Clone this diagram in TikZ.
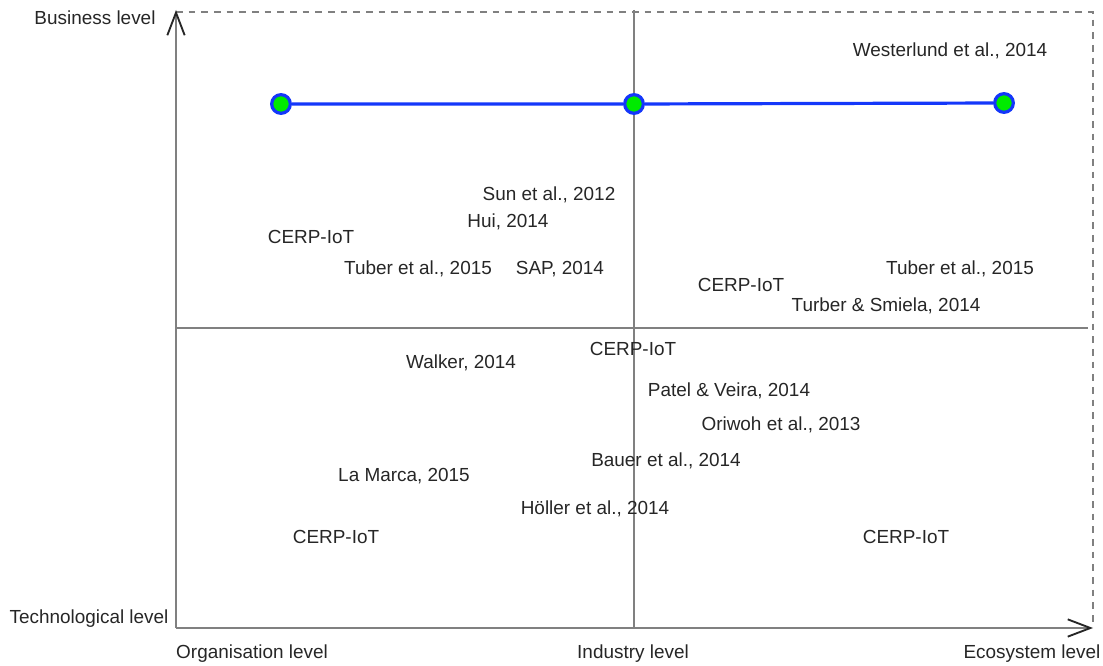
\documentclass[tikz,border=0pt]{standalone}
\usepackage{fontspec}
\setmainfont{Liberation Sans}
\usetikzlibrary{arrows.meta}
\definecolor{lineblue}{RGB}{20,55,250}
\definecolor{dotgreen}{RGB}{0,235,0}
\definecolor{axisgray}{RGB}{128,128,128}
\begin{document}
\begin{tikzpicture}[x=0.75pt, y=-0.75pt,
    axis/.style={draw=axisgray, line width=2.2pt},
    ref/.style={font=\fontsize{14.2}{17}\selectfont, text=black!85, inner sep=0pt, text height=10.2pt, text depth=0pt},
    dot/.style={circle, draw=lineblue, fill=dotgreen, line width=2.4pt, minimum size=14pt, inner sep=0pt}]
        \useasboundingbox (0, 0) rectangle (1103, 666);
        \coordinate (origin) at (176, 628);
        \coordinate (ytop) at (176, 10);
        \coordinate (xend) at (1093, 628);
        \coordinate (corner) at (1093, 12);
        \draw[axisgray, line width=1.7pt, dash pattern=on 5pt off 4.5pt] (176, 12) -- (corner) -- (1093, 622);
        \draw[axis] (634, 10) -- (634, 628);
        \draw[axis] (176, 328) -- (1088, 328);
        \draw[axis, -{Straight Barb[length=17pt, width=13pt, color=black!85, line width=1.4pt]}] (origin) -- (ytop);
        \draw[axis, -{Straight Barb[length=17pt, width=13pt, color=black!85, line width=1.4pt]}] (origin) -- (xend);
        % axis labels
        \node[ref] (bus) at (95, 18) {Business level};
        \node[ref] (tech) at (89, 617) {Technological level};
        \node[ref] (org) at (252, 652) {Organisation level};
        \node[ref] (ind) at (633, 652) {Industry level};
        \node[ref] (eco) at (1032, 652) {Ecosystem level};
        % line with dots
        \node[dot] (d1) at (281, 104) {};
        \node[dot] (d2) at (634, 104) {};
        \node[dot] (d3) at (1004, 103) {};
        \draw[lineblue, line width=2.4pt] (d1) -- (d2) -- (d3);
        % references
        \node[ref] (west) at (950, 50) {Westerlund et al., 2014};
        \node[ref] (sun) at (549, 194) {Sun et al., 2012};
        \node[ref] (hui) at (508, 221) {Hui, 2014};
        \node[ref] (cerpa) at (311, 237) {CERP-IoT};
        \node[ref] (tubera) at (418, 268) {Tuber et al., 2015};
        \node[ref] (sap) at (560, 268) {SAP, 2014};
        \node[ref] (cerpb) at (741, 285) {CERP-IoT};
        \node[ref] (tuberb) at (960, 268) {Tuber et al., 2015};
        \node[ref] (turber) at (886, 305) {Turber \& Smiela, 2014};
        \node[ref] (cerpc) at (633, 349) {CERP-IoT};
        \node[ref] (walker) at (461, 362) {Walker, 2014};
        \node[ref] (patel) at (729, 390) {Patel \& Veira, 2014};
        \node[ref] (oriwoh) at (781, 424) {Oriwoh et al., 2013};
        \node[ref] (bauer) at (666, 460) {Bauer et al., 2014};
        \node[ref] (lamarca) at (404, 475) {La Marca, 2015};
        \node[ref] (holler) at (595, 508) {Höller et al., 2014};
        \node[ref] (cerpd) at (336, 537) {CERP-IoT};
        \node[ref] (cerpe) at (906, 537) {CERP-IoT};
\end{tikzpicture}
\end{document}
